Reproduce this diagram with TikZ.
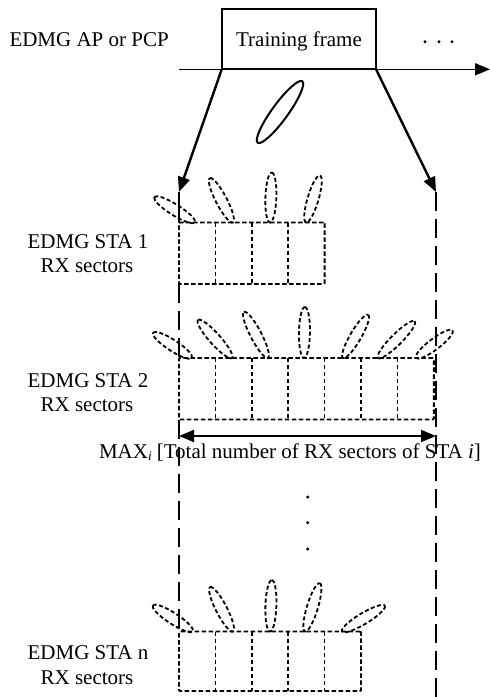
\documentclass[tikz,border=0pt]{standalone}
\usepackage{fontspec}
\setmainfont{Liberation Serif}
\usetikzlibrary{arrows.meta,calc}
\tikzset{
  lbl/.style={font=\fontsize{21}{24}\selectfont, inner sep=0pt, outer sep=0pt, anchor=base},
  framebox/.style={draw, line width=2.3pt, minimum width=154.3pt, minimum height=60pt, inner sep=0pt, outer sep=0pt},
  axisline/.style={line width=1.6pt, -{Triangle[length=15pt,width=12pt]}},
  beam/.style={line width=2.4pt, -{Triangle[length=15pt,width=12pt]}},
  rxbox/.style={draw, line width=1.9pt, dash pattern=on 4.5pt off 2.5pt, rounded corners=1pt, inner sep=0pt, outer sep=0pt, anchor=north west},
  divline/.style={line width=1.7pt, dash pattern=on 4pt off 3pt},
  lobeline/.style={line width=1.8pt, dash pattern=on 4pt off 2.5pt},
  longdash/.style={line width=2.4pt, dash pattern=on 19pt off 8pt},
  dimarrow/.style={line width=1.8pt, {Triangle[length=15pt,width=12pt]}-{Triangle[length=15pt,width=12pt]}},
  dotmark/.style={circle, fill, inner sep=0pt, minimum size=3.4pt},
}
\newcommand\drawlobe[3]{\begin{scope}[shift={(#1)},rotate=#2]\draw[lobeline] ({#3/2},0) ellipse ({#3/2} and 5.5);\end{scope}}
\begin{document}
\begin{tikzpicture}[x=1pt,y=-1pt]
\useasboundingbox (0,0) rectangle (490,697);

% top row
\node[lbl, anchor=base west] (ap) at (9.5,46.5) {EDMG AP or PCP};
\coordinate (axL) at (179,69.3);
\coordinate (axR) at (490,69.3);
\draw[axisline] (axL) -- (axR);
\node[framebox] (tf) at (298.9,39.3) {};
\node[lbl] (tft) at (299,46) {Training frame};
\node[dotmark] (d1) at (425,41.7) {};
\node[dotmark] (d2) at (439,41.7) {};
\node[dotmark] (d3) at (452,41.7) {};
\draw[line width=2pt, rotate around={54:(280,112)}] (280,112) ellipse (38 and 8);

% boxes
\node[rxbox, minimum width=145.6pt, minimum height=61.5pt] (sta1) at (179,222.5) {};
\node[rxbox, minimum width=254.8pt, minimum height=61.5pt] (sta2) at (179,358) {};
\node[rxbox, minimum width=182pt, minimum height=59.5pt] (stan) at (179,631.5) {};
\foreach \i in {1,2,3}
  \draw[divline] ($(sta1.north west)+(\i*36.4,0)$) -- ($(sta1.south west)+(\i*36.4,0)$);
\foreach \i in {1,...,6}
  \draw[divline] ($(sta2.north west)+(\i*36.4,0)$) -- ($(sta2.south west)+(\i*36.4,0)$);
\foreach \i in {1,...,4}
  \draw[divline] ($(stan.north west)+(\i*36.4,0)$) -- ($(stan.south west)+(\i*36.4,0)$);

% vertical reference lines
\coordinate (tipL) at (179,192);
\coordinate (tipR) at (436,192);
\coordinate (botR) at (436,697);
\draw[line width=2.4pt] (tipL) -- (sta1.north west);
\draw[longdash] (sta1.south west) -- (sta2.north west);
\draw[longdash] (sta2.south west) -- (stan.north west);
\draw[longdash] (tipR) -- (botR);

% beams from training frame
\draw[beam] (tf.south west) -- (tipL);
\draw[beam] (tf.south east) -- (tipR);

% lobes STA 1
\drawlobe{195,222.5}{148}{48}
\drawlobe{233,222.5}{117.6}{50}
\drawlobe{270,222.5}{88}{50}
\drawlobe{306,222.5}{73.4}{49}
% lobes STA 2
\drawlobe{192,358}{147}{46.5}
\drawlobe{232,358}{131.8}{51}
\drawlobe{268,358}{117.5}{52}
\drawlobe{304,358}{89}{51}
\drawlobe{343,358}{59.8}{50}
\drawlobe{378,358}{45}{52}
\drawlobe{416,358}{37}{46}
% lobes STA n
\drawlobe{193,631.5}{147}{48}
\drawlobe{233,631.5}{117.3}{50}
\drawlobe{270,631.5}{88}{51.5}
\drawlobe{305,631.5}{73}{50.5}
\drawlobe{342,631.5}{31}{50}

% dimension arrow
\coordinate (dimL) at (179,436);
\coordinate (dimR) at (436,436);
\draw[dimarrow] (dimL) -- (dimR);
\node[lbl, anchor=base west] (maxt) at (99,458) {MAX{\fontsize{13}{13}\selectfont\itshape\raisebox{-2.5pt}{i}} [Total number of RX sectors of STA \textit{i}]};

% vertical ellipsis
\node[dotmark] (v1) at (307.7,497) {};
\node[dotmark] (v2) at (307.7,522.7) {};
\node[dotmark] (v3) at (307.7,549) {};

% left labels
\node[lbl] (l1a) at (88,248) {EDMG STA 1};
\node[lbl] (l1b) at (87,272) {RX sectors};
\node[lbl] (l2a) at (88,387) {EDMG STA 2};
\node[lbl] (l2b) at (87,411) {RX sectors};
\node[lbl] (l3a) at (88,659) {EDMG STA n};
\node[lbl] (l3b) at (87,684) {RX sectors};
\end{tikzpicture}
\end{document}
